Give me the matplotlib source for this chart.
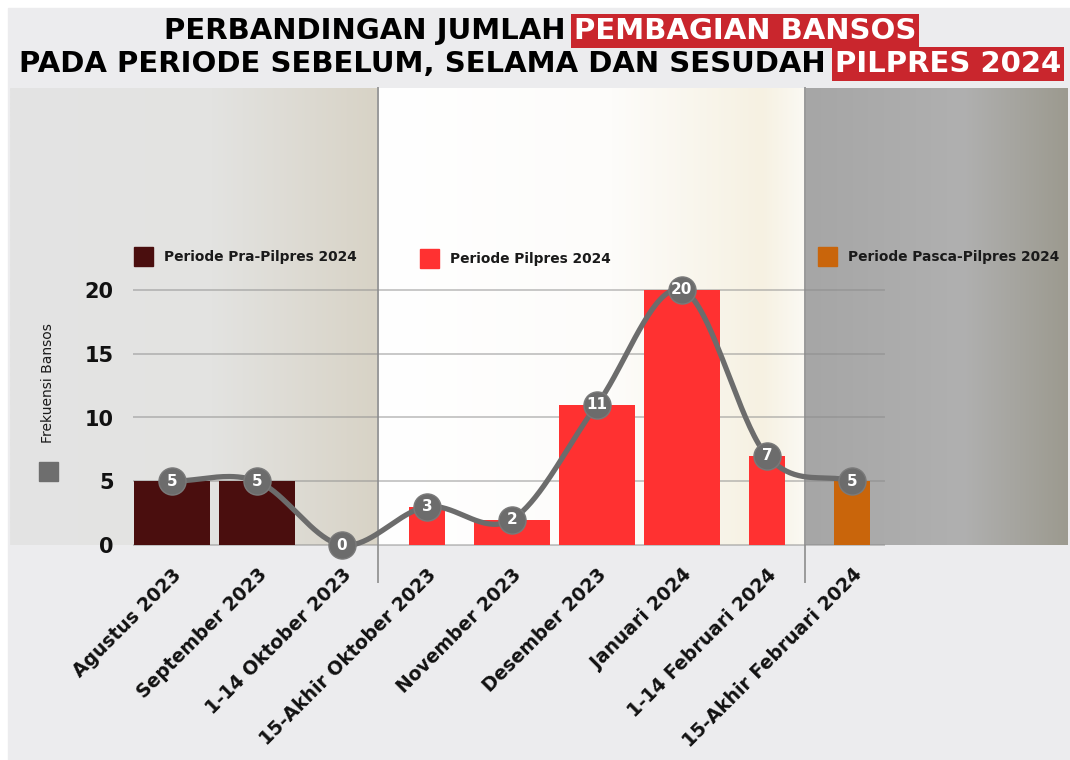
import numpy as np
import matplotlib
matplotlib.use("Agg")
import matplotlib.pyplot as plt
from matplotlib.patches import Rectangle

# ---------------- data ----------------
categories = ["Agustus 2023", "September 2023", "1-14 Oktober 2023",
              "15-Akhir Oktober 2023", "November 2023", "Desember 2023",
              "Januari 2024", "1-14 Februari 2024", "15-Akhir Februari 2024"]
values = [5, 5, 0, 3, 2, 11, 20, 7, 5]
periods = ["pra", "pra", "pra", "pilpres", "pilpres", "pilpres",
           "pilpres", "pilpres", "pasca"]
half_month = [False, False, True, True, False, False, False, True, True]
period_names = {"pra": "Periode Pra-Pilpres 2024",
                "pilpres": "Periode Pilpres 2024",
                "pasca": "Periode Pasca-Pilpres 2024"}
yticks = [0, 5, 10, 15, 20]
ylabel = "Frekuensi Bansos"
title_1 = ("PERBANDINGAN JUMLAH", "PEMBAGIAN BANSOS")
title_2 = ("PADA PERIODE SEBELUM, SELAMA DAN SESUDAH", "PILPRES 2024")

# ---------------- style ----------------
W, H = 1070, 760
colors = {"pra": "#4a0e0e", "pilpres": "#ff3131", "pasca": "#c9650b"}
line_gray = "#6c6c6c"
title_red = "#c9262d"
FONT = "DejaVu Sans"


def catmull_rom(x, y, n=40):
    # smooth curve through the data points (cubic Hermite, Catmull-Rom tangents)
    x = np.asarray(x, float)
    y = np.asarray(y, float)
    m = np.empty_like(y)
    m[1:-1] = (y[2:] - y[:-2]) / 2.0
    m[0] = y[1] - y[0]
    m[-1] = y[-1] - y[-2]
    xs, ys = [], []
    for i in range(len(x) - 1):
        t = np.linspace(0, 1, n, endpoint=False)
        h00 = 2 * t**3 - 3 * t**2 + 1
        h10 = t**3 - 2 * t**2 + t
        h01 = -2 * t**3 + 3 * t**2
        h11 = t**3 - t**2
        ys.append(h00 * y[i] + h10 * m[i] + h01 * y[i + 1] + h11 * m[i + 1])
        xs.append(x[i] + t * (x[i + 1] - x[i]))
    xs.append([x[-1]])
    ys.append([y[-1]])
    return np.concatenate(xs), np.concatenate(ys)


def gradient(ax, x0, x1, y0, y1, stops):
    pos = np.array([s[0] for s in stops])
    cols = np.array([matplotlib.colors.to_rgb(s[1]) for s in stops])
    u = np.linspace(0, 1, 256)
    img = np.stack([np.interp(u, pos, cols[:, k]) for k in range(3)], axis=-1)
    ax.imshow(img[None, :, :], extent=(x0, x1, y1, y0), aspect="auto",
              interpolation="bilinear", zorder=0)


fig = plt.figure(figsize=(W / 100, H / 100), dpi=100)
fig.patch.set_facecolor("white")

# background layer in pixel coordinates
bg = fig.add_axes([0, 0, 1, 1])
bg.set_xlim(0, W)
bg.set_ylim(H, 0)
bg.axis("off")
bg.add_patch(Rectangle((8, 8), W, H, color="#ececee", zorder=0))
gradient(bg, 10, 378, 88, 545, [(0, "#e4e4e4"), (0.55, "#e3e3e1"), (1, "#d8d3c6")])
gradient(bg, 378, 805, 88, 545, [(0, "#ffffff"), (0.55, "#fdfcfa"), (0.9, "#f6f1e2"), (1, "#fbf9f3")])
gradient(bg, 805, 1068, 88, 545, [(0, "#a6a6a6"), (0.6, "#b0b0b0"), (1, "#9c9a8f")])
for xv in (378, 805):
    bg.plot([xv, xv], [88, 582], color="#9a9a9a", lw=1.4, zorder=1)

# title
tkw = dict(fontsize=21, fontweight="heavy", family=FONT, va="center")
bbox = dict(boxstyle="square,pad=0.1", fc=title_red, ec="none")
bg.text(565, 31, title_1[0], ha="right", color="black", **tkw)
bg.text(574, 31, title_1[1], ha="left", color="white", bbox=bbox, **tkw)
bg.text(826, 64, title_2[0], ha="right", color="black", **tkw)
bg.text(835, 64, title_2[1], ha="left", color="white", bbox=bbox, **tkw)

# legend
for (px, py), key in zip([(134, 247), (420, 249), (818, 247)], ["pra", "pilpres", "pasca"]):
    bg.add_patch(Rectangle((px, py), 19, 19, color=colors[key], zorder=2))
    bg.text(px + 30, py + 10, period_names[key], fontsize=9.9, family=FONT,
            fontweight="semibold", color="#1a1a1a", va="center", ha="left")

# y label with gray square
bg.text(48, 383, ylabel, rotation=90, fontsize=10, family=FONT,
        color="#1a1a1a", ha="center", va="center")
bg.add_patch(Rectangle((39, 462), 19, 19, color="#6e6e6e", zorder=2))

# ---------------- main chart ----------------
px_per_unit = 12.75
y_lo, y_hi = -0.15, 20.6
ax_bottom = 545 + (-y_lo) * px_per_unit
ax_height = (y_hi - y_lo) * px_per_unit
ax = fig.add_axes([133 / W, 1 - ax_bottom / H, 752 / W, ax_height / H])
ax.set_facecolor("none")
ax.set_xlim(-0.46, 8.39)
ax.set_ylim(y_lo, y_hi)
for s in ax.spines.values():
    s.set_visible(False)

x = np.arange(len(categories))
widths = [0.42 if h else 0.9 for h in half_month]
ax.bar(x, values, width=widths, color=[colors[p] for p in periods], zorder=2)

ax.set_yticks(yticks)
ax.set_yticklabels([str(v) for v in yticks], fontsize=15, fontweight="bold",
                   family=FONT, color="#111111")
ax.tick_params(axis="y", length=0, pad=14)
ax.yaxis.grid(True, color="#8a8a8a", alpha=0.5, lw=1.3, zorder=1)
ax.set_axisbelow(True)

ax.set_xticks(x)
ax.set_xticklabels(categories, rotation=45, ha="right", va="top",
                   rotation_mode="anchor", fontsize=13.5, fontweight="bold",
                   family=FONT, color="#111111")
ax.tick_params(axis="x", length=0, pad=13)

sx, sy = catmull_rom(x, values)
ax.plot(sx, sy, color=line_gray, lw=3.8, zorder=3, clip_on=False,
        solid_capstyle="round")
ax.plot(x, values, "o", ms=19.5, mfc=line_gray, mec="#7a7a7a", mew=1.0,
        zorder=4, clip_on=False)
for xi, v in zip(x, values):
    ax.text(xi, v, str(v), color="white", fontsize=11, fontweight="bold",
            family=FONT, ha="center", va="center", zorder=5, clip_on=False)

fig.savefig("out.png", dpi=100)
